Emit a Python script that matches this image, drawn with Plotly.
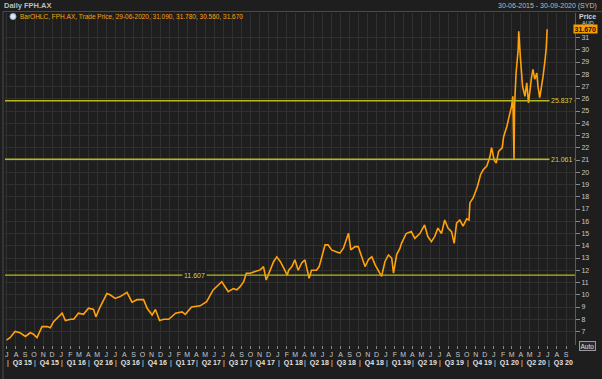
import pandas as pd
import plotly.graph_objects as go

# ---------------- data ----------------
dates = [
    "2015-06-30", "2015-07-12", "2015-07-29", "2015-08-15", "2015-09-02", "2015-09-18", "2015-09-28",
    "2015-10-11", "2015-10-28", "2015-11-14", "2015-11-25", "2015-12-06", "2016-01-04", "2016-01-15",
    "2016-02-02", "2016-02-12", "2016-02-28", "2016-03-16", "2016-04-02", "2016-04-19", "2016-04-27",
    "2016-05-11", "2016-06-03", "2016-06-14", "2016-07-01", "2016-07-18", "2016-08-10", "2016-08-27",
    "2016-09-13", "2016-10-05", "2016-10-17", "2016-11-03", "2016-11-14", "2016-11-28", "2016-12-12",
    "2016-12-29", "2017-01-21", "2017-02-12", "2017-02-23", "2017-03-16", "2017-04-14", "2017-05-06",
    "2017-05-28", "2017-06-09", "2017-06-26", "2017-07-07", "2017-07-18", "2017-08-04", "2017-08-16",
    "2017-08-27", "2017-09-08", "2017-09-17", "2017-09-30", "2017-10-17", "2017-11-03", "2017-11-14",
    "2017-11-23", "2017-12-07", "2017-12-18", "2017-12-29", "2018-01-10", "2018-01-21", "2018-02-02",
    "2018-02-07", "2018-02-18", "2018-02-28", "2018-03-11", "2018-03-23", "2018-04-03", "2018-04-09",
    "2018-04-17", "2018-04-25", "2018-05-12", "2018-05-21", "2018-05-29", "2018-06-10", "2018-06-20",
    "2018-07-02", "2018-07-19", "2018-07-30", "2018-08-11", "2018-08-22", "2018-08-28", "2018-09-05",
    "2018-09-19", "2018-09-30", "2018-10-12", "2018-10-23", "2018-11-04", "2018-11-15", "2018-11-26",
    "2018-12-13", "2018-12-18", "2018-12-29", "2019-01-10", "2019-01-21", "2019-01-27", "2019-02-07",
    "2019-02-18", "2019-02-23", "2019-03-11", "2019-03-28", "2019-04-09", "2019-04-26", "2019-05-12",
    "2019-05-23", "2019-06-04", "2019-06-15", "2019-06-26", "2019-07-08", "2019-07-19", "2019-07-30",
    "2019-08-11", "2019-08-20", "2019-08-28", "2019-09-08", "2019-09-19", "2019-10-01", "2019-10-09",
    "2019-10-12", "2019-10-23", "2019-11-06", "2019-11-17", "2019-11-26", "2019-12-08", "2019-12-19",
    "2019-12-24", "2020-01-02", "2020-01-09", "2020-01-17", "2020-01-29", "2020-02-03", "2020-02-14",
    "2020-02-22", "2020-03-01", "2020-03-05", "2020-03-09", "2020-03-11", "2020-03-16", "2020-03-23",
    "2020-03-25", "2020-03-31", "2020-04-07", "2020-04-15", "2020-04-21", "2020-04-27", "2020-05-01",
    "2020-05-07", "2020-05-12", "2020-05-18", "2020-05-25", "2020-05-29", "2020-06-04", "2020-06-10",
    "2020-06-15", "2020-06-22", "2020-06-26", "2020-06-29",
]
prices = [
    6.3, 6.5, 7.0, 6.9, 6.6, 6.9, 6.8,
    6.5, 7.4, 7.4, 7.3, 7.8, 8.5, 7.9,
    8.0, 8.0, 8.5, 8.4, 8.9, 8.8, 8.2,
    9.0, 10.1, 10.0, 9.7, 9.85, 10.2, 9.4,
    9.6, 9.6, 8.9, 8.35, 8.8, 7.9, 8.0,
    8.0, 8.5, 8.6, 8.4, 9.0, 9.1, 9.44,
    10.4, 10.66, 11.07, 10.66, 10.25, 10.5, 10.4,
    10.66, 11.07, 11.76, 11.76, 11.9, 12.03, 12.3,
    11.2, 12.03, 12.7, 13.1, 12.7, 12.2, 11.6,
    12.0, 12.3, 12.85, 12.0, 12.6, 12.85, 12.2,
    11.35, 12.0, 12.0, 12.3, 13.1, 14.07, 14.07,
    13.66, 13.5, 13.4, 13.8, 14.6, 15.03, 13.66,
    13.93, 13.93, 13.1, 12.3, 12.9, 13.1, 12.44,
    11.76, 11.5, 12.7, 13.25, 13.0, 11.76, 13.3,
    13.8, 14.2, 15.0, 15.16, 14.6, 15.0, 15.7,
    14.75, 14.34, 14.75, 15.44, 15.0, 16.1, 15.44,
    15.16, 14.2, 15.85, 16.1, 15.6, 16.2, 16.1,
    17.5, 17.9, 18.8, 19.8, 20.2, 20.5, 21.3,
    22.0, 21.0, 20.75, 21.7, 22.0, 22.9, 23.75,
    24.6, 25.4, 26.2, 21.06, 25.5, 28.1, 30.0,
    31.5, 29.2, 27.0, 26.2, 27.3, 25.66, 26.75,
    27.7, 28.4, 27.6, 28.1, 27.0, 26.1, 27.0,
    27.8, 29.2, 30.2, 31.67,
]
levels = [25.837, 21.061, 11.607]
level_labels = ["25.837", "21.061", "11.607"]
level_label_px = [562, 562, 194]          # label centre (pixels)
y_ticks = list(range(7, 32))
last_value = 31.67
last_label = "31.670"
legend_text = "BarOHLC, FPH.AX, Trade Price, 29-06-2020, 31.090, 31.780, 30.560, 31.670"
title_text = "Daily FPH.AX"
range_text = "30-06-2015 - 30-09-2020 (SYD)"

month_ticks = pd.date_range("2015-07-01", "2020-09-01", freq="MS")
month_letters = [d.strftime("%b")[0] for d in month_ticks]
quarter_starts = pd.date_range("2015-07-01", "2020-07-01", freq="QS-JAN")
quarter_labels = ["Q%d %s" % ((d.month - 1) // 3 + 1, d.strftime("%y")) for d in quarter_starts]

# ---------------- geometry ----------------
W, H = 602, 379
ML, MR, MT, MB = 5, 27, 13, 34
PW, PH = W - ML - MR, H - MT - MB
X0, X1 = "2015-06-25", "2020-10-01"
Y0, Y1 = 5.9, 33.0


def px(xp):
    return (xp - ML) / PW


def py(yp):
    return (H - MB - yp) / PH


BG = "#1e1e1e"
GRID = "#303030"
ORANGE = "#ffa10a"
YEL = "#b8b81c"
TXT = "#c8c8c8"
FONT = "Liberation Sans"

fig = go.Figure()
fig.add_trace(go.Scatter(x=dates, y=prices, mode="lines",
                         line=dict(color=ORANGE, width=1.6), hoverinfo="skip",
                         showlegend=False))

shapes = [
    dict(type="line", xref="paper", yref="paper", x0=px(3), x1=px(602), y0=py(11.5), y1=py(11.5),
         line=dict(color="#4a4a4a", width=1)),
    dict(type="line", xref="paper", yref="paper", x0=px(3), x1=px(3), y0=py(11.5), y1=py(379),
         line=dict(color="#4a4a4a", width=1)),
    dict(type="circle", xref="paper", yref="paper", x0=px(10), x1=px(16), y0=py(13.5), y1=py(19.5),
         line=dict(color="#9ab0d0", width=1), fillcolor="#dfe6f0"),
]
for lv in levels:
    shapes.append(dict(type="line", xref="paper", yref="y", x0=0, x1=1, y0=lv, y1=lv,
                       line=dict(color=YEL, width=1.3), layer="above"))

ann = []
for lv, lab, lx in zip(levels, level_labels, level_label_px):
    ann.append(dict(x=px(lx), y=lv, xref="paper", yref="y", text=lab, showarrow=False,
                    font=dict(family=FONT, size=7, color="#d4d444"),
                    bgcolor=BG, borderpad=1, xanchor="center", yanchor="middle"))

# quarter labels row
for qs, ql in zip(quarter_starts, quarter_labels):
    ann.append(dict(x=qs, y=py(363), xref="x", yref="paper", text="|  <b>" + ql + "</b>", showarrow=False,
                    font=dict(family=FONT, size=7, color="#e0e0e0"),
                    xanchor="left", yanchor="middle", xshift=-2))

# header texts
ann.append(dict(x=px(2), y=py(6), xref="paper", yref="paper", text="<b>" + title_text + "</b>",
                showarrow=False, font=dict(family=FONT, size=7.5, color="#bdbdbd"),
                xanchor="left", yanchor="middle"))
ann.append(dict(x=px(599), y=py(6), xref="paper", yref="paper", text=range_text,
                showarrow=False, font=dict(family=FONT, size=7, color="#bdbdbd"),
                xanchor="right", yanchor="middle"))
ann.append(dict(x=px(18), y=py(16.5), xref="paper", yref="paper", text=legend_text,
                showarrow=False, font=dict(family=FONT, size=6.5, color=ORANGE),
                xanchor="left", yanchor="middle"))
ann.append(dict(x=px(577), y=py(16.5), xref="paper", yref="paper", text="<b>Price</b>",
                showarrow=False, font=dict(family=FONT, size=7, color="#d0d0d0"),
                xanchor="left", yanchor="middle"))
ann.append(dict(x=px(580), y=py(23), xref="paper", yref="paper", text="AUD",
                showarrow=False, font=dict(family=FONT, size=5.5, color="#d0d0d0"),
                xanchor="left", yanchor="middle"))
ann.append(dict(x=px(573), y=last_value, xref="paper", yref="y", text="<b>" + last_label + "</b>",
                showarrow=False, font=dict(family=FONT, size=7, color="#111111"),
                bgcolor="#f5a000", borderpad=0.5, xanchor="left", yanchor="middle"))
ann.append(dict(x=px(579), y=py(345.5), xref="paper", yref="paper", text="Auto",
                showarrow=False, font=dict(family=FONT, size=6.5, color="#e0e0e0"),
                bgcolor="#2a2a2a", bordercolor="#9a9a9a", borderwidth=1, borderpad=0.5,
                xanchor="left", yanchor="middle"))

fig.update_layout(
    width=W, height=H,
    margin=dict(l=ML, r=MR, t=MT, b=MB),
    paper_bgcolor=BG, plot_bgcolor=BG,
    annotations=ann, shapes=shapes,
    xaxis=dict(range=[X0, X1], type="date", showgrid=True, gridcolor=GRID, gridwidth=1,
               tickmode="array", tickvals=list(month_ticks), ticktext=month_letters,
               ticks="outside", ticklen=3, tickcolor="#8a8a8a",
               tickfont=dict(family=FONT, size=7, color=TXT),
               showline=False, zeroline=False, fixedrange=True),
    yaxis=dict(range=[Y0, Y1], side="right", showgrid=True, gridcolor=GRID, gridwidth=1,
               tickmode="array", tickvals=y_ticks, ticktext=[str(v) for v in y_ticks],
               ticks="outside", ticklen=4, tickcolor="#8a8a8a",
               tickfont=dict(family=FONT, size=7, color=TXT),
               showline=True, linecolor="#5a5a5a", zeroline=False, fixedrange=True),
    showlegend=False,
)

fig.write_html("out.html", config={"displayModeBar": False},
               post_script="document.body.style.margin='0px';document.body.style.background='#1e1e1e';")
